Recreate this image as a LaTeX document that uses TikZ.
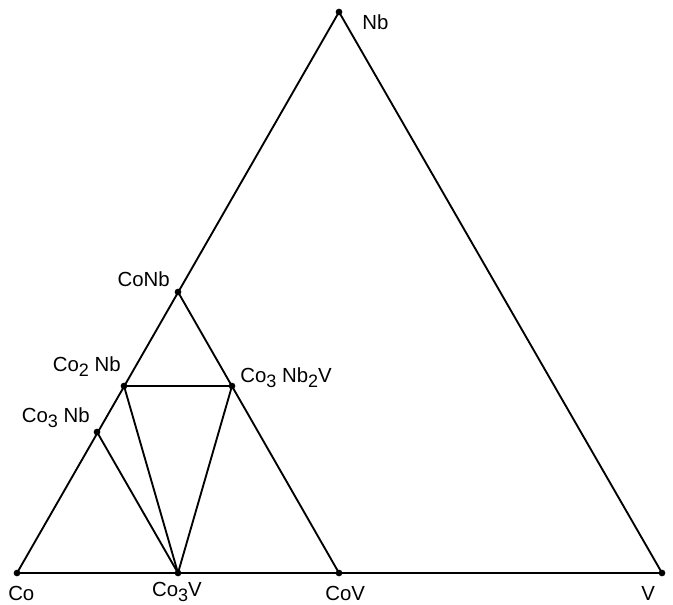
\documentclass[tikz,border=0pt]{standalone}
\usepackage{fontspec}
\setmainfont{Liberation Sans}
\newcommand{\sbs}[1]{\raisebox{-0.45ex}{\fontsize{13.5}{13.5}\selectfont #1}}
\begin{document}
\begin{tikzpicture}[x=0.75pt,y=-0.75pt,
  edge/.style={line width=1.4pt,line cap=round},
  pt/.style={circle,fill=black,inner sep=0pt,minimum size=5pt},
  lbl/.style={inner sep=0pt,font=\fontsize{15.3}{15.3}\selectfont}]
\useasboundingbox (0,0) rectangle (673,605);
% vertices of the ternary diagram
\node[pt] (Co) at (17,573) {};
\node[pt] (V) at (662,573) {};
\node[pt] (Nb) at (339,12) {};
% phases
\node[pt] (CoV) at (339,573) {};
\node[pt] (Co3V) at (178,573) {};
\node[pt] (CoNb) at (178,292) {};
\node[pt] (Co2Nb) at (124,386) {};
\node[pt] (Co3Nb2V) at (232,386) {};
\node[pt] (Co3Nb) at (97,432) {};
% outer triangle
\draw[edge] (Co.center) -- (Nb.center) -- (V.center) -- (Co.center);
% tie lines
\draw[edge] (CoNb.center) -- (CoV.center);
\draw[edge] (Co2Nb.center) -- (Co3Nb2V.center);
\draw[edge] (Co2Nb.center) -- (Co3V.center);
\draw[edge] (Co3Nb2V.center) -- (Co3V.center);
\draw[edge] (Co3Nb.center) -- (Co3V.center);
% labels
\node[lbl,anchor=west] (tNb) at (362,22) {Nb};
\node[lbl,anchor=east] (tCoNb) at (170,279) {CoNb};
\node[lbl,anchor=east] (tCo2Nb) at (121,367) {Co\sbs{2} Nb};
\node[lbl,anchor=west] (tCo3Nb2V) at (240,378) {Co\sbs{3} Nb\sbs{2}V};
\node[lbl,anchor=east] (tCo3Nb) at (90,418) {Co\sbs{3} Nb};
\node[lbl,anchor=west] (tCo) at (8,593) {Co};
\node[lbl] (tCo3V) at (177,592) {Co\sbs{3}V};
\node[lbl,anchor=west] (tCoV) at (325,593) {CoV};
\node[lbl,anchor=west] (tV) at (641,593) {V};
\end{tikzpicture}
\end{document}
